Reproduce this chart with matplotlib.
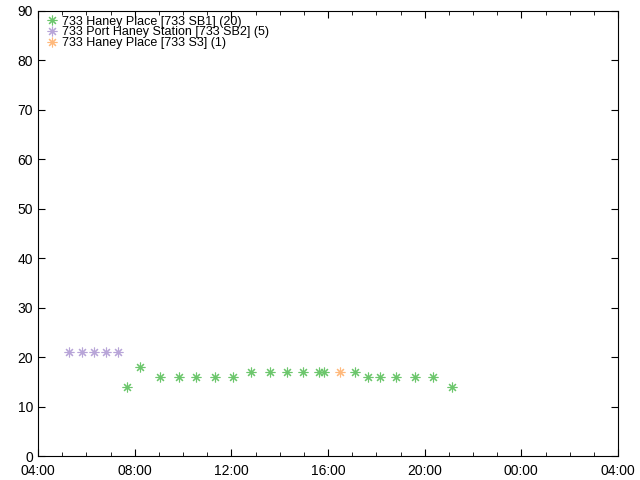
import datetime as dt

import matplotlib

matplotlib.use("Agg")
import matplotlib.dates as mdates
import matplotlib.pyplot as plt

plt.rcParams["font.family"] = ["Liberation Sans", "DejaVu Sans"]

DAY = dt.date(2024, 1, 1)

sb1_times = ["07:42", "08:13", "09:03", "09:49", "10:33", "11:20", "12:05",
             "12:49", "13:35", "14:19", "14:59", "15:37", "15:49", "17:08",
             "17:39", "18:08", "18:48", "19:37", "20:20", "21:07"]
sb1_values = [14, 18, 16, 16, 16, 16, 16, 17, 17, 17, 17, 17, 17, 17,
              16, 16, 16, 16, 16, 14]

sb2_times = ["05:17", "05:49", "06:19", "06:49", "07:19"]
sb2_values = [21, 21, 21, 21, 21]

s3_times = ["16:31"]
s3_values = [17]

series = [
    ("733 Haney Place [733 SB1] (20)", sb1_times, sb1_values, "#6cc66c"),
    ("733 Port Haney Station [733 SB2] (5)", sb2_times, sb2_values, "#b8a5d8"),
    ("733 Haney Place [733 S3] (1)", s3_times, s3_values, "#ffb97c"),
]


def to_dt(hhmm):
    h, m = map(int, hhmm.split(":"))
    return dt.datetime.combine(DAY, dt.time(h, m))


fig = plt.figure(figsize=(6.4, 4.8), dpi=100)
ax = fig.add_axes([38 / 640, 24 / 480, 580 / 640, 445 / 480])

for label, times, values, color in series:
    ax.plot([to_dt(t) for t in times], values, linestyle="none",
            marker=(8, 2, 0), markersize=7, markeredgewidth=0.8,
            color=color, label=label)

ax.set_xlim(dt.datetime(2024, 1, 1, 4), dt.datetime(2024, 1, 2, 4))
ax.set_ylim(0, 90)
ax.set_yticks(range(0, 91, 10))
ax.xaxis.set_major_locator(mdates.HourLocator(byhour=range(0, 24, 4)))
ax.xaxis.set_minor_locator(mdates.HourLocator())
ax.xaxis.set_major_formatter(mdates.DateFormatter("%H:%M"))

ax.tick_params(which="both", direction="in", top=True, right=True,
               labelsize=10)
ax.tick_params(axis="x", pad=6)
ax.tick_params(which="major", length=5)
ax.tick_params(which="minor", length=3)

ax.legend(loc="upper left", bbox_to_anchor=(0.012, 0.995), frameon=False,
          fontsize=9, handlelength=0.8, handletextpad=0.4,
          labelspacing=-0.1, borderaxespad=0.0, borderpad=0.2)

fig.savefig("out.png", dpi=100)
